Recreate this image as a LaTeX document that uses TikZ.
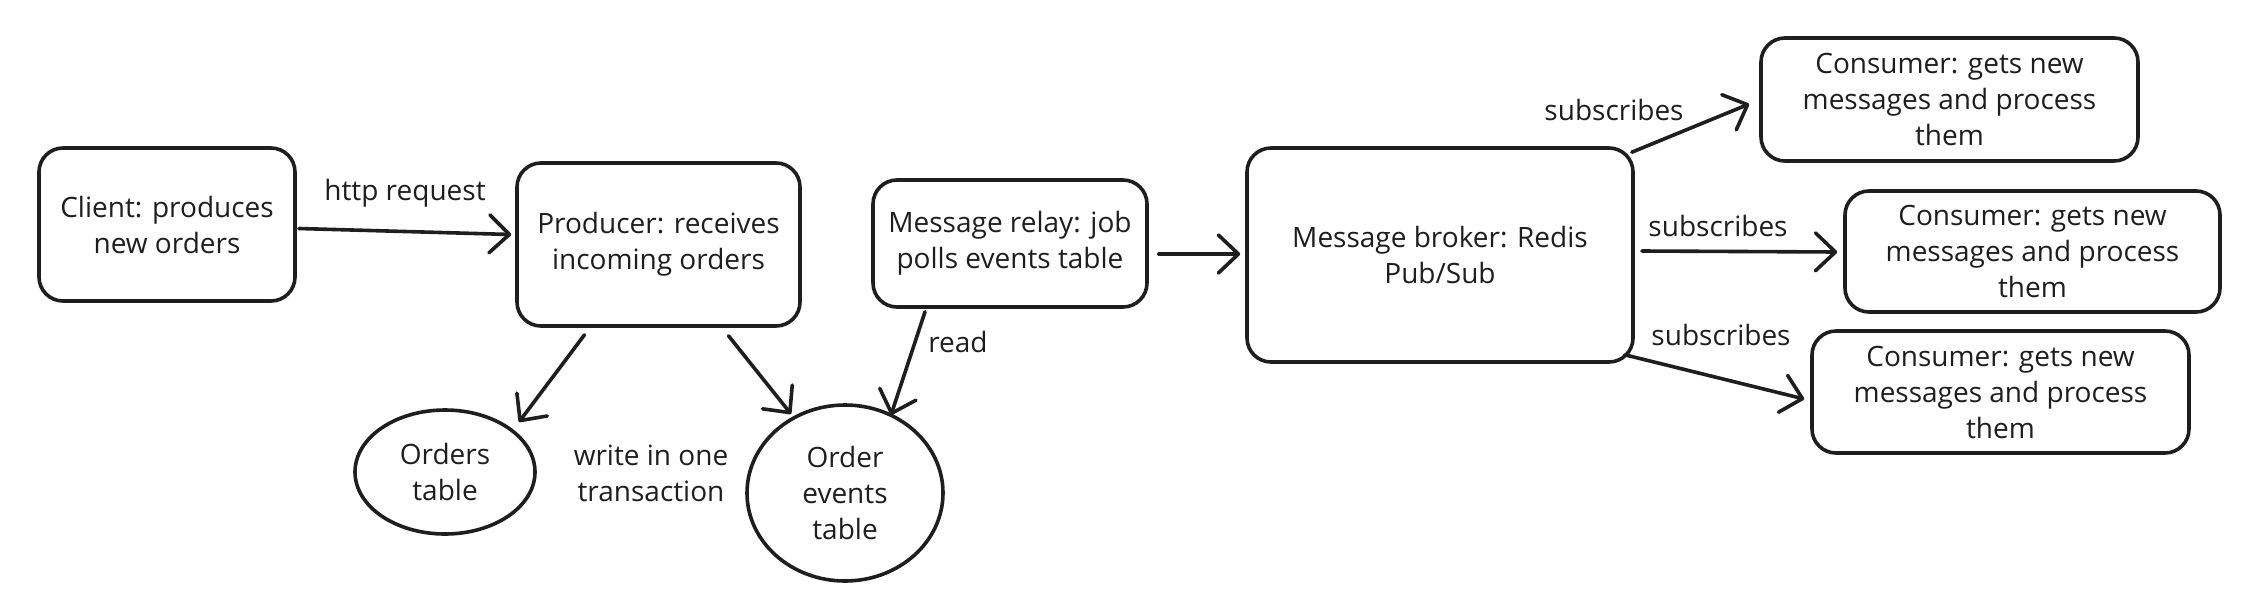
\documentclass[tikz,border=0pt]{standalone}
\usepackage{fontspec}
\setmainfont{Open Sans}
\usetikzlibrary{arrows.meta,calc,shapes.geometric}
\definecolor{ink}{HTML}{1E1E1E}
\begin{document}
\begin{tikzpicture}[x=1pt,y=-1pt,
  font=\fontsize{28}{36}\selectfont,
  box/.style={draw=ink, line width=3.6pt, rounded corners=24pt, align=center, text=ink, inner sep=0pt},
  tbl/.style={draw=ink, line width=3.6pt, ellipse, align=center, text=ink, inner sep=0pt},
  arr/.style={draw=ink, line width=3.6pt, line cap=round, -{Straight Barb[length=20pt,width=38pt,line cap=round,line join=round]}},
  lbl/.style={text=ink, align=center, inner sep=0pt}]
\useasboundingbox (0,0) rectangle (2260,614);
\fill[white] (0,0) rectangle (2260,614);

\node[box, minimum width=256pt, minimum height=153pt] (client) at (167,224.5) {Client: produces\\new orders};
\node[box, minimum width=283pt, minimum height=163pt] (producer) at (658.5,244.5) {Producer: receives\\incoming orders};
\node[box, minimum width=274pt, minimum height=127pt] (relay) at (1010,243.5) {Message relay: job\\polls events table};
\node[box, minimum width=386pt, minimum height=214pt] (broker) at (1440,255) {Message broker: Redis\\Pub/Sub};
\node[box, minimum width=377pt, minimum height=123pt] (c1) at (1949.5,99.5) {Consumer: gets new\\messages and process\\them};
\node[box, minimum width=375pt, minimum height=121pt] (c2) at (2032.5,251.5) {Consumer: gets new\\messages and process\\them};
\node[box, minimum width=377pt, minimum height=122pt] (c3) at (2000.5,392) {Consumer: gets new\\messages and process\\them};
\node[tbl, minimum width=180pt, minimum height=124pt] (orders) at (445,472) {Orders\\table};
\node[tbl, minimum width=196pt, minimum height=176pt] (events) at (845,493) {Order\\events\\table};

\node[lbl] (lhttp) at (405,193) {http request};
\node[lbl] (lread) at (958,342) {read};
\node[lbl] (lwrite) at (651,473) {write in one\\transaction};
\node[lbl] (ls1) at (1614,110) {subscribes};
\node[lbl] (ls2) at (1718,226) {subscribes};
\node[lbl] (ls3) at (1721,335) {subscribes};

\draw[arr] ($(client.east)+(2,4)$) -- ($(producer.west)+(-4,-10)$);
\draw[arr] ($(producer.south)+(-74,7)$) -- ($(orders.center)+(74,-50)$);
\draw[arr] ($(producer.south)+(70,8)$) -- ($(events.center)+(-54,-79)$);
\draw[arr] ($(relay.south)+(-85,3)$) -- ($(events.center)+(46,-78)$);
\draw[arr] ($(relay.east)+(10,10.5)$) -- ($(broker.west)+(-5,-1)$);
\draw[arr] ($(broker.north east)+(-3,6)$) -- ($(c1.west)+(-10,4.5)$);
\draw[arr] ($(broker.east)+(7,-4)$) -- ($(c2.west)+(-6,0.5)$);
\draw[arr] ($(broker.south east)+(-10,-9)$) -- ($(c3.west)+(-6,7)$);
\end{tikzpicture}
\end{document}
